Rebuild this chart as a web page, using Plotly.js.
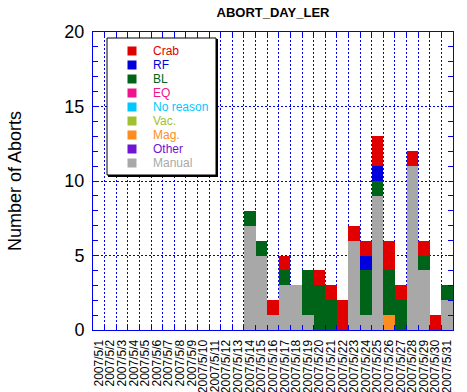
<!DOCTYPE html>
<html>
<head>
<meta charset="utf-8">
<script src="https://cdn.plot.ly/plotly-3.0.1.min.js"></script>
<style>html,body{margin:0;padding:0;background:#fff;}#chart{width:467px;height:392px;}</style>
</head>
<body>
<div id="chart"></div>
<script>
var days = ['2007/5/1','2007/5/2','2007/5/3','2007/5/4','2007/5/5','2007/5/6','2007/5/7','2007/5/8','2007/5/9','2007/5/10',
            '2007/5/11','2007/5/12','2007/5/13','2007/5/14','2007/5/15','2007/5/16','2007/5/17','2007/5/18','2007/5/19','2007/5/20',
            '2007/5/21','2007/5/22','2007/5/23','2007/5/24','2007/5/25','2007/5/26','2007/5/27','2007/5/28','2007/5/29','2007/5/30','2007/5/31'];

// series values, days 1..31
var manual   = [0,0,0,0,0,0,0,0,0,0, 0,0,0,7,5,1,3,3,1,0, 0,0,6,1,9,0,0,11,4,0,2];
var other    = [0,0,0,0,0,0,0,0,0,0, 0,0,0,0,0,0,0,0,0,0, 0,0,0,0,0,0,0,0,0,0,0];
var mag      = [0,0,0,0,0,0,0,0,0,0, 0,0,0,0,0,0,0,0,0,0, 0,0,0,0,0,1,0,0,0,0,0];
var vac      = [0,0,0,0,0,0,0,0,0,0, 0,0,0,0,0,0,0,0,0,0, 0,0,0,0,0,0,0,0,0,0,0];
var noreason = [0,0,0,0,0,0,0,0,0,0, 0,0,0,0,0,0,0,0,0,0, 0,0,0,0,0,0,0,0,0,0,0];
var eq       = [0,0,0,0,0,0,0,0,0,0, 0,0,0,0,0,0,0,0,0,0, 0,0,0,0,0,0,0,0,0,0,0];
var bl       = [0,0,0,0,0,0,0,0,0,0, 0,0,0,1,1,0,1,0,3,3, 2,0,0,3,1,3,2,0,1,0,1];
var rf       = [0,0,0,0,0,0,0,0,0,0, 0,0,0,0,0,0,0,0,0,0, 0,0,0,1,1,0,0,0,0,0,0];
var crab     = [0,0,0,0,0,0,0,0,0,0, 0,0,0,0,0,1,1,0,0,1, 1,2,1,1,2,2,1,1,1,1,0];

// legend order (top to bottom)
var seriesNames  = ['Crab','RF','BL','EQ','No reason','Vac.','Mag.','Other','Manual'];
var seriesValues = [crab, rf, bl, eq, noreason, vac, mag, other, manual];
var seriesColors = ['#e00000','#0000dd','#006418','#f0148c','#00c8ff','#a0c030','#ff8c1e','#6e14d2','#a8a8a8'];

var BLUE = '#0000ee';
var FONT = 'Arial, "Liberation Sans", sans-serif';

// stack bottom-up: reverse of legend order
var traces = [];
for (var i = seriesNames.length - 1; i >= 0; i--) {
  traces.push({
    type: 'bar', name: seriesNames[i], x: days, y: seriesValues[i],
    marker: {color: seriesColors[i], line: {width: 0}},
    showlegend: false, hoverinfo: 'x+y+name'
  });
}

// plot area in px
var L = 93, R = 453, T = 32, B = 330, W = 467, H = 392;
function px(x) { return (x - L) / (R - L); }
function py(y) { return (B - y) / (B - T); }

var shapes = [];
var annotations = [];
// legend box with shadow
shapes.push({type:'rect', xref:'paper', yref:'paper', x0:px(107), x1:px(216), y0:py(175), y1:py(38),
             line:{color:'#000', width:1}, fillcolor:'#fff', layer:'above'});
shapes.push({type:'line', xref:'paper', yref:'paper', x0:px(217), x1:px(217), y0:py(176.5), y1:py(39),
             line:{color:'#000', width:2}, layer:'above'});
shapes.push({type:'line', xref:'paper', yref:'paper', x0:px(108), x1:px(218), y0:py(176), y1:py(176),
             line:{color:'#000', width:2}, layer:'above'});
for (var k = 0; k < seriesNames.length; k++) {
  var cy = 51 + 14 * k;
  shapes.push({type:'rect', xref:'paper', yref:'paper', x0:px(127.5), x1:px(136.5), y0:py(cy + 4.5), y1:py(cy - 4.5),
               line:{width:0}, fillcolor:seriesColors[k], layer:'above'});
  annotations.push({xref:'paper', yref:'paper', x:px(151), y:py(cy), xanchor:'left', yanchor:'middle',
                    text:seriesNames[k], showarrow:false,
                    font:{family:FONT, size:12, color:seriesColors[k]}});
}

var layout = {
  width: W, height: H,
  margin: {l: L, r: W - R, t: T, b: H - B, pad: 0},
  paper_bgcolor: '#fff', plot_bgcolor: '#fff',
  barmode: 'stack', bargap: 0,
  showlegend: false,
  title: {text: '<b>ABORT_DAY_LER</b>', font: {family: FONT, size: 13, color: '#000'},
          x: px(273), xref: 'paper', xanchor: 'center', y: 1 - 12.5 / H, yref: 'container', yanchor: 'middle'},
  xaxis: {
    type: 'category', range: [-0.5, 30.5], fixedrange: true,
    tickmode: 'array', tickvals: days, ticktext: days,
    tickson: 'boundaries', ticks: 'inside', ticklen: 5, tickcolor: BLUE, tickwidth: 1,
    showline: true, linecolor: BLUE, linewidth: 1, mirror: 'ticks',
    showgrid: true, gridcolor: BLUE, gridwidth: 1, griddash: '2px,2px',
    tickangle: -90, tickfont: {family: FONT, size: 12, color: '#000'},
    ticklabelstandoff: 4,
    zeroline: false
  },
  yaxis: {
    range: [0, 20], dtick: 5, tick0: 0, fixedrange: true,
    ticks: 'inside', ticklen: 5, tickcolor: BLUE, tickwidth: 1,
    minor: {dtick: 1, ticks: 'inside', ticklen: 5, tickcolor: BLUE, showgrid: false},
    showline: true, linecolor: BLUE, linewidth: 1, mirror: 'ticks',
    showgrid: true, gridcolor: BLUE, gridwidth: 1, griddash: '2px,2px',
    tickfont: {family: FONT, size: 18, color: '#000'},
    ticklabelstandoff: 4,
    zeroline: false,
    title: {text: 'Number of Aborts', font: {family: FONT, size: 18, color: '#000'}, standoff: 38}
  },
  shapes: shapes,
  annotations: annotations
};

Plotly.newPlot('chart', traces, layout, {displayModeBar: false, staticPlot: true});
</script>
</body>
</html>
